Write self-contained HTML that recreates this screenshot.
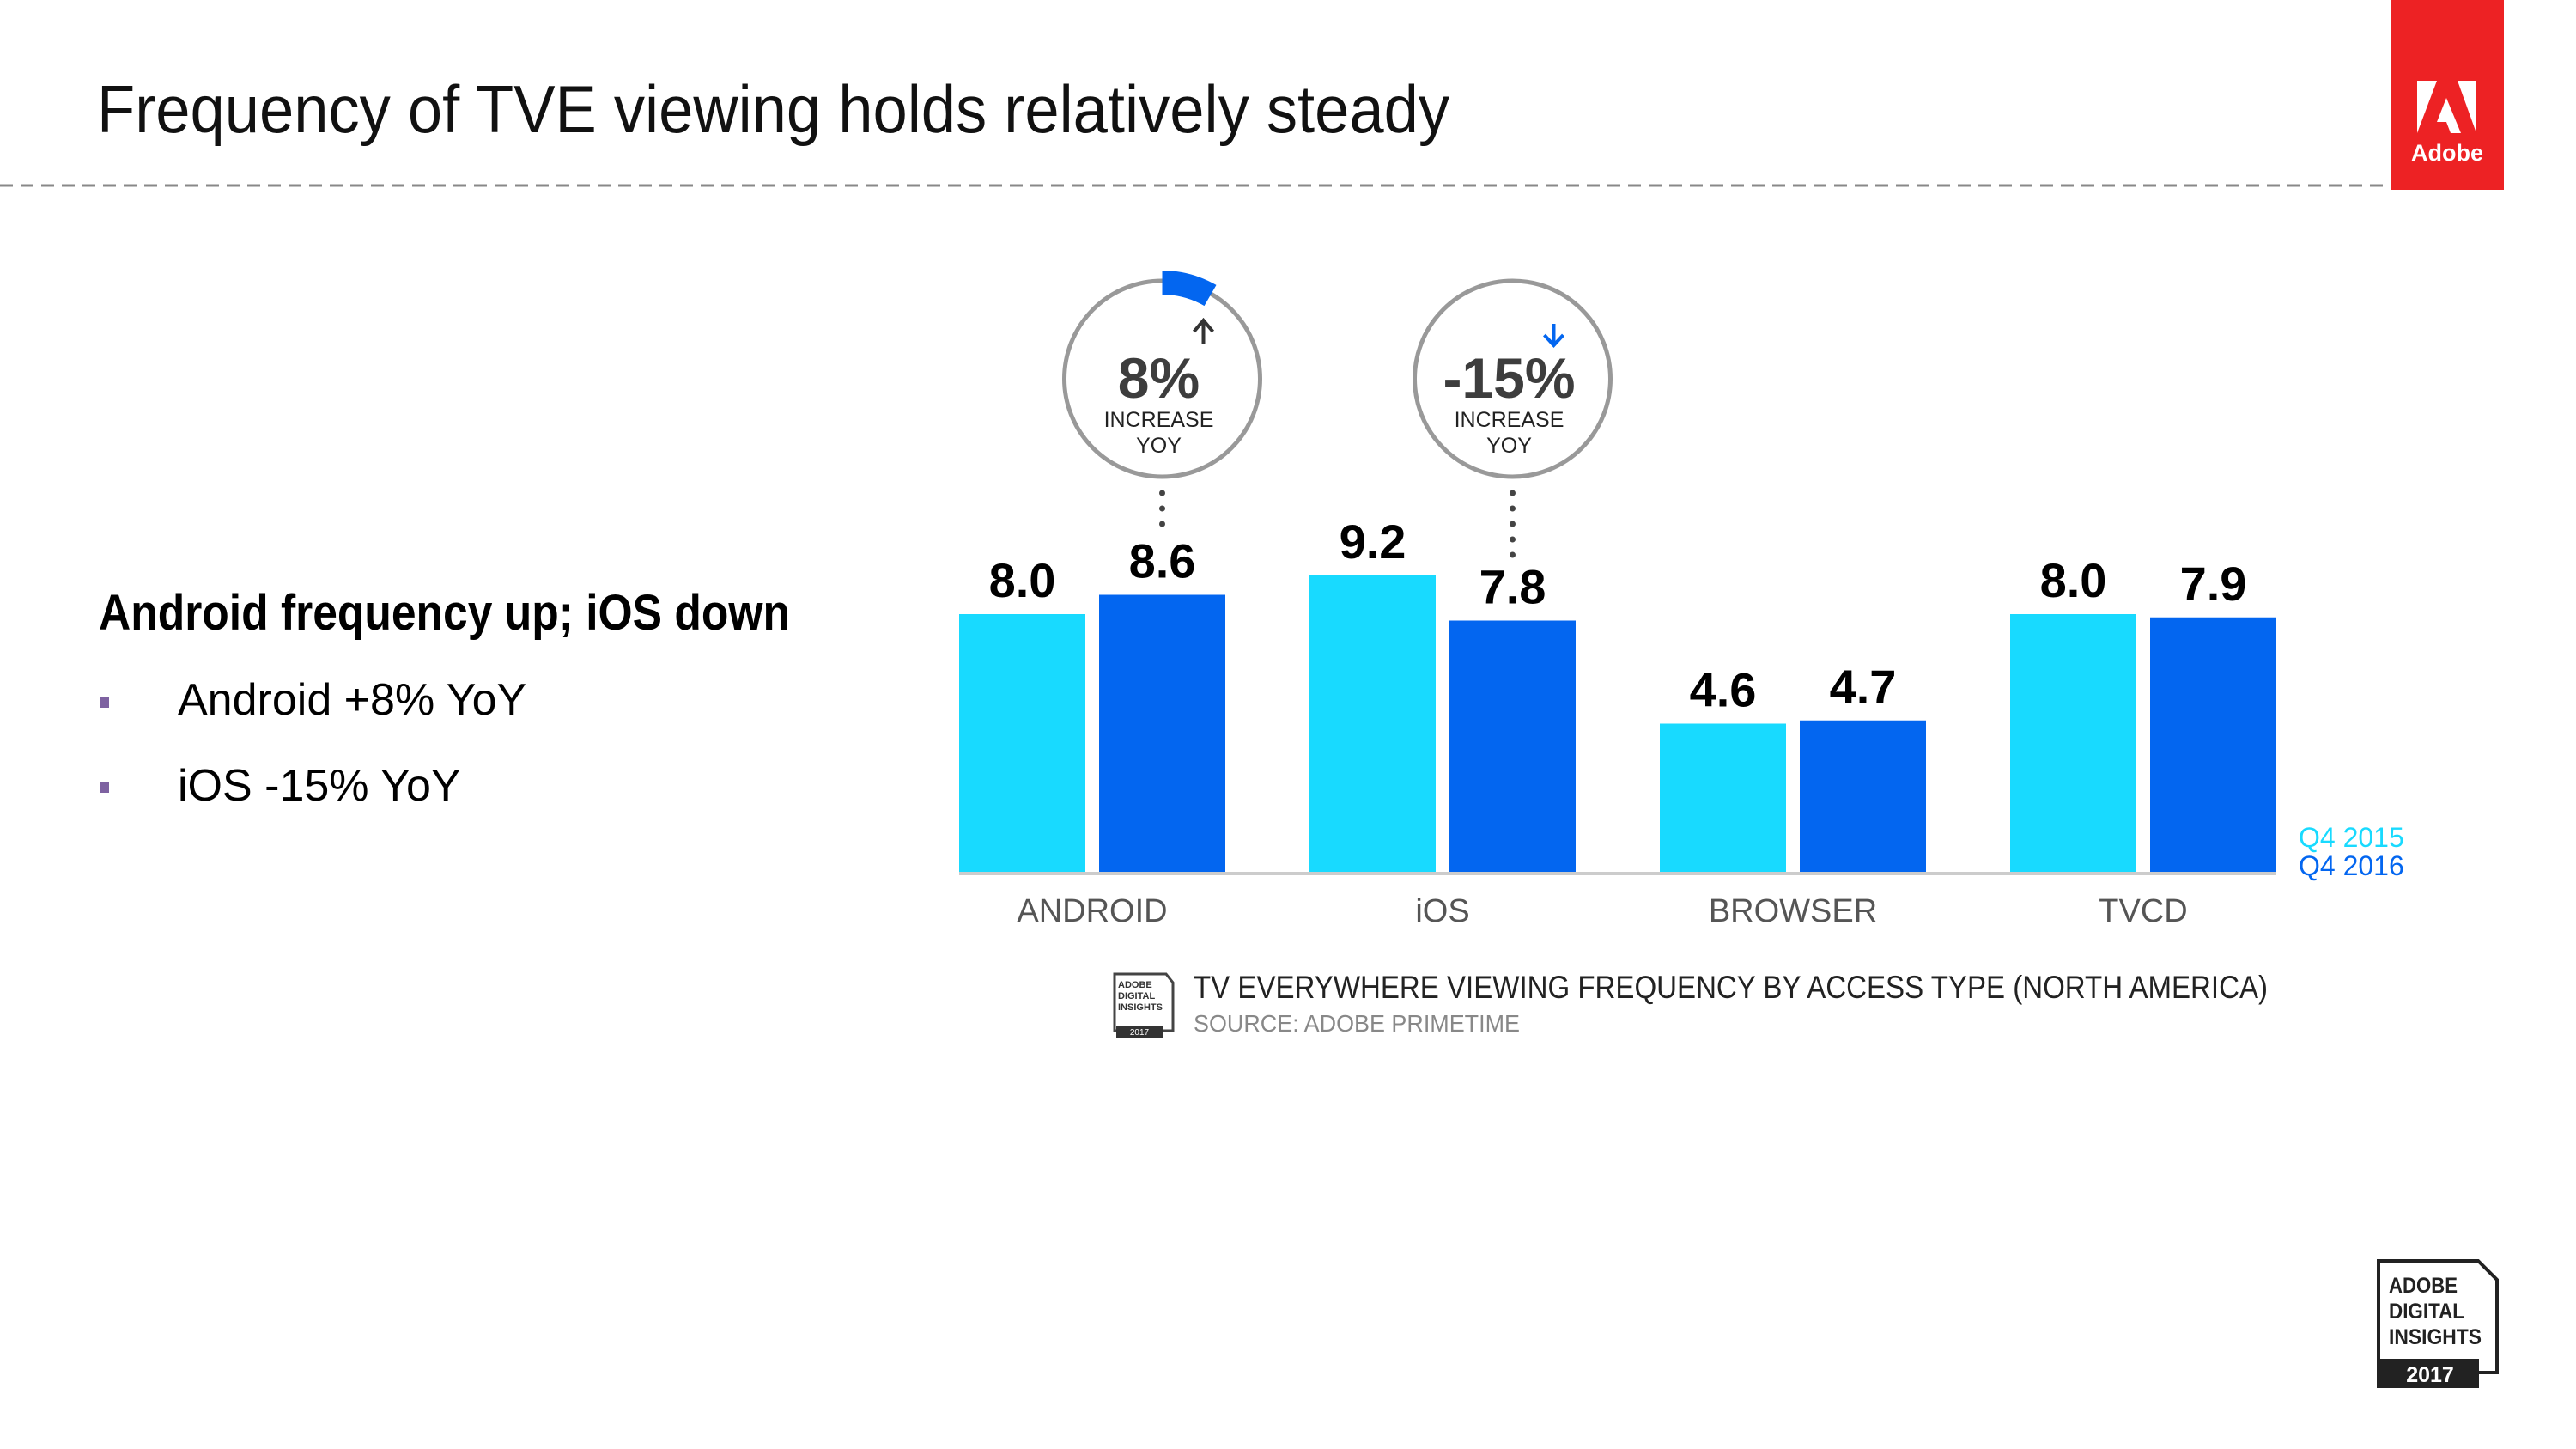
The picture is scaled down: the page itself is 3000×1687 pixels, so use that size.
<!DOCTYPE html>
<html><head><meta charset="utf-8"><style>
html,body{margin:0;padding:0;background:#fff;}
svg{display:block;}
text{font-family:"Liberation Sans",sans-serif;}
</style></head><body>
<svg id="s" width="3000" height="1687" viewBox="0 0 3000 1687" xmlns="http://www.w3.org/2000/svg">
<text x="113" y="154" font-size="78" fill="#111" textLength="1575" lengthAdjust="spacingAndGlyphs">Frequency of TVE viewing holds relatively steady</text>
<line x1="0" y1="216" x2="2784" y2="216" stroke="#888" stroke-width="3" stroke-dasharray="15,9"/>
<g>
<rect x="2784" y="0" width="132" height="221" fill="#ED2224"/>
<polygon points="2815,94 2838,94 2815,155" fill="#fff"/>
<polygon points="2862,94 2884,94 2884,155" fill="#fff"/>
<polygon points="2849,114 2866,155 2854,155 2849,142 2838,142" fill="#fff"/>
<text x="2850" y="187" font-size="27" font-weight="bold" fill="#fff" text-anchor="middle">Adobe</text>
</g>
<text x="115" y="733" font-size="58" font-weight="bold" fill="#000" textLength="805" lengthAdjust="spacingAndGlyphs">Android frequency up; iOS down</text>
<rect x="116" y="812" width="11" height="12" fill="#7e62a1"/>
<text x="207" y="832" font-size="52" fill="#000">Android +8% YoY</text>
<rect x="116" y="911" width="11" height="12" fill="#7e62a1"/>
<text x="207" y="932" font-size="52" fill="#000">iOS -15% YoY</text>
<g id="chart"></g>
<g>
<path d="M1298,1134 H1358 L1366,1144 V1200 H1298 Z" fill="#fff" stroke="#444" stroke-width="3"/>
<rect x="1300" y="1195" width="54" height="13" fill="#333"/>
<text x="1302" y="1150" font-size="11" font-weight="bold" fill="#333">ADOBE</text>
<text x="1302" y="1163" font-size="11" font-weight="bold" fill="#333">DIGITAL</text>
<text x="1302" y="1176" font-size="11" font-weight="bold" fill="#333">INSIGHTS</text>
<text x="1327" y="1205" font-size="10" fill="#fff" text-anchor="middle">2017</text>
<text x="1390" y="1162" font-size="37" fill="#222" textLength="1251" lengthAdjust="spacingAndGlyphs">TV EVERYWHERE VIEWING FREQUENCY BY ACCESS TYPE (NORTH AMERICA)</text>
<text x="1390" y="1201" font-size="28" fill="#888" textLength="380" lengthAdjust="spacingAndGlyphs">SOURCE: ADOBE PRIMETIME</text>
</g>
<g>
<path d="M2770,1468 H2886 L2908,1490 V1598 H2770 Z" fill="#fff" stroke="#222" stroke-width="4"/>
<rect x="2768" y="1582" width="119" height="34" fill="#222"/>
<text x="2782" y="1505" font-size="25" font-weight="bold" fill="#222" textLength="80" lengthAdjust="spacingAndGlyphs">ADOBE</text>
<text x="2782" y="1535" font-size="25" font-weight="bold" fill="#222" textLength="88" lengthAdjust="spacingAndGlyphs">DIGITAL</text>
<text x="2782" y="1565" font-size="25" font-weight="bold" fill="#222" textLength="108" lengthAdjust="spacingAndGlyphs">INSIGHTS</text>
<text x="2830" y="1609" font-size="25" font-weight="bold" fill="#fff" text-anchor="middle">2017</text>
</g>
</svg>
<script>
const categories = ["ANDROID", "iOS", "BROWSER", "TVCD"];
const q42015 = [8.0, 9.2, 4.6, 8.0];
const q42016 = [8.6, 7.8, 4.7, 7.9];
const valueLabels2015 = ["8.0", "9.2", "4.6", "8.0"];
const valueLabels2016 = ["8.6", "7.8", "4.7", "7.9"];
const seriesNames = ["Q4 2015", "Q4 2016"];
const callouts = [{cat: 0, text: "8%", up: true}, {cat: 1, text: "-15%", up: false}];

const NS = "http://www.w3.org/2000/svg";
const g = document.getElementById("chart");
const BASE = 1015, PX_PER_UNIT = 37.5, X0 = 1117, STEP = 408, BW = 147, OFF = 163;
const C1 = "#18DAFF", C2 = "#0366F0";
function xScale(i, s) { return X0 + i * STEP + s * OFF; }
function yScale(v) { return BASE - v * PX_PER_UNIT; }
function mk(tag, attrs, txt) {
  const e = document.createElementNS(NS, tag);
  for (const k in attrs) e.setAttribute(k, attrs[k]);
  if (txt !== undefined) e.textContent = txt;
  g.appendChild(e);
  return e;
}
const series = [q42015, q42016];
const labels = [valueLabels2015, valueLabels2016];
categories.forEach((c, i) => {
  for (let s = 0; s < 2; s++) {
    const v = series[s][i];
    const r = mk("rect", {x: xScale(i, s), y: yScale(v), width: BW, height: BASE - yScale(v), fill: s ? C2 : C1});
    
    
    const t = mk("text", {x: xScale(i, s) + BW / 2, y: yScale(v) - 20, "font-size": 56, "font-weight": "bold", "text-anchor": "middle", fill: "#000"}, labels[s][i]);
    
    
  }
  const cl = mk("text", {x: xScale(i, 0) + (OFF + BW) / 2, y: 1073, "font-size": 38, "text-anchor": "middle", fill: "#555"}, c);
  
  
});
const axis = mk("line", {x1: X0, y1: BASE + 2, x2: xScale(3, 1) + BW, y2: BASE + 2, stroke: "#ccc", "stroke-width": 4});


const lg1 = mk("text", {x: 2677, y: 986, "font-size": 32, fill: C1}, seriesNames[0]);


const lg2 = mk("text", {x: 2677, y: 1019, "font-size": 32, fill: C2}, seriesNames[1]);



callouts.forEach(co => {
  const cx = xScale(co.cat, 1) + BW / 2, cy = 441, R = 114;
  const circ = mk("circle", {cx: cx, cy: cy, r: R, fill: "#fff", stroke: "#999", "stroke-width": 5});
  
  
  if (co.up) {
    const a0 = 0, a1 = 30 * Math.PI / 180, ri = 98, ro = 126;
    const p = (r, a) => (cx + r * Math.sin(a)).toFixed(1) + "," + (cy - r * Math.cos(a)).toFixed(1);
    const arc = mk("path", {d: "M" + p(ro, a0) + " A" + ro + "," + ro + " 0 0 1 " + p(ro, a1) + " L" + p(ri, a1) + " A" + ri + "," + ri + " 0 0 0 " + p(ri, a0) + " Z", fill: C2});
    
    
    const ar = mk("path", {d: `M${cx+48},400 V373 M${cx+37},386 L${cx+48},373 L${cx+59},386`, stroke: "#333", "stroke-width": 4, fill: "none"});
    
    
  } else {
    const ar = mk("path", {d: `M${cx+48},377 V402 M${cx+37},390 L${cx+48},402 L${cx+59},390`, stroke: C2, "stroke-width": 4, fill: "none"});
    
    
  }
  const pt = mk("text", {x: cx - 4, y: 463, "font-size": 66, "font-weight": "bold", "text-anchor": "middle", fill: "#3d3d3d"}, co.text);
  
  
  const t1 = mk("text", {x: cx - 4, y: 497, "font-size": 25, "text-anchor": "middle", fill: "#222"}, "INCREASE");
  
  
  const t2 = mk("text", {x: cx - 4, y: 527, "font-size": 25, "text-anchor": "middle", fill: "#222"}, "YOY");
  
  
  const topBar = yScale(series[1][co.cat]);
  for (let y = 574; y <= topBar - 75; y += 18) {
    const d = mk("circle", {cx: cx, cy: y, r: 3.5, fill: "#444"});
    
    
  }
});
</script>
</body></html>
